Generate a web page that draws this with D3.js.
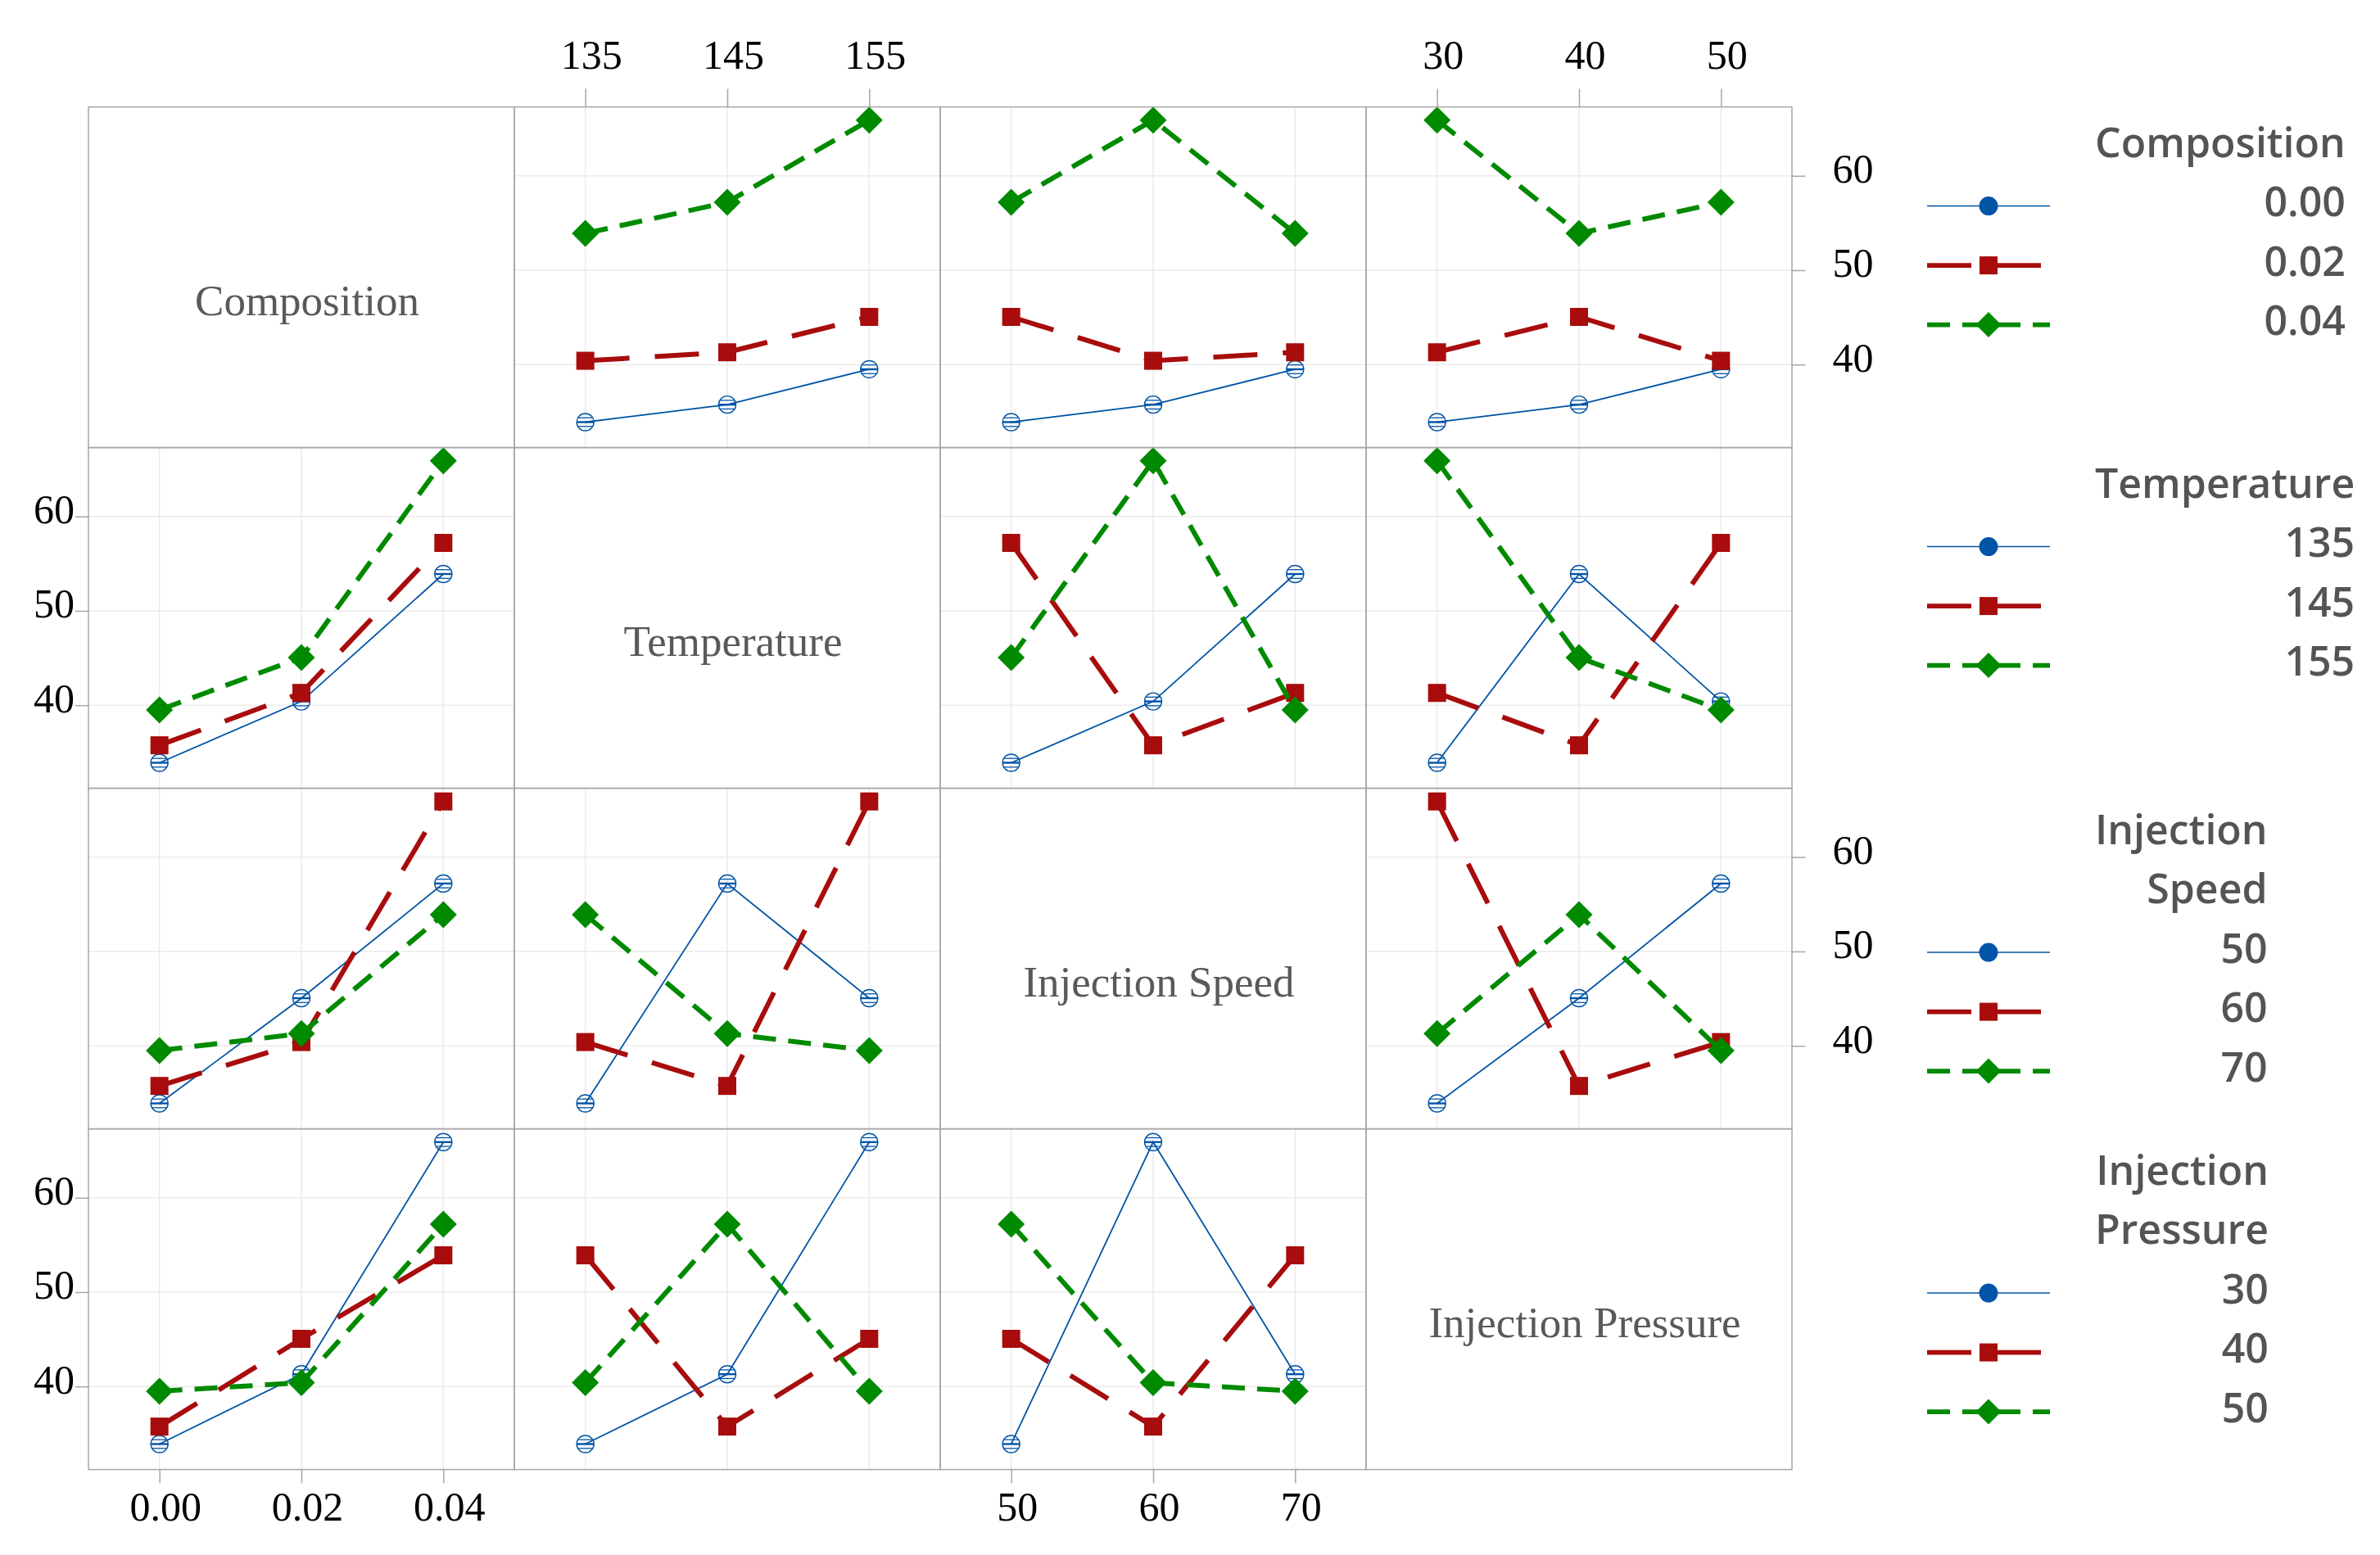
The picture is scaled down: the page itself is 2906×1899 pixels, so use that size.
<!DOCTYPE html>
<meta charset="utf-8">

<!-- Load d3.js -->
<script src="https://d3js.org/d3.v7.min.js"></script>

<body style="margin:0;background:#fff">
<div id="interaction_matrix"></div>
</body>

<style>
.legend text {
  font-family: "Open Sans", sans-serif;
  font-weight: 600;
  fill: #545454;
}
</style>

<script>

// factors (rows = trace factor, columns = x factor)
var factors = ["Composition", "Temperature", "Injection Speed", "Injection Pressure"]
var legendTitles = [["Composition"], ["Temperature"], ["Injection", "Speed"], ["Injection", "Pressure"]]

// tick / legend labels of each factor level
var compositionLevels = ["0.00", "0.02", "0.04"]
var temperatureLevels = ["135", "145", "155"]
var speedLevels = ["50", "60", "70"]
var pressureLevels = ["30", "40", "50"]
var allLevels = [compositionLevels, temperatureLevels, speedLevels, pressureLevels]

// L9 runs: level index of every factor per run, and the response
var runComposition = [0, 0, 0, 1, 1, 1, 2, 2, 2]
var runTemperature = [0, 1, 2, 0, 1, 2, 0, 1, 2]
var runSpeed       = [0, 1, 2, 1, 2, 0, 2, 0, 1]
var runPressure    = [0, 1, 2, 2, 0, 1, 1, 2, 0]
var runResponse    = [33.9, 35.75, 39.5, 40.4, 41.3, 45.05, 53.9, 57.2, 65.9]
var runLevels = [runComposition, runTemperature, runSpeed, runPressure]

var yTicks = [40, 50, 60]

// set the dimensions of the graph
var W = 2906, H = 1899
var gridLeft = 108, gridTop = 130.6
var cellW = 520, cellH = 416

var colors = ["#0054a6", "#a80c0c", "#008a00"]
var dashes = [null, "54,31", "28,15"]
var widths = [1.8, 6, 6]
var serif = "'Liberation Serif', 'Times New Roman', serif"

var svg = d3.select("#interaction_matrix")
  .append("svg")
    .attr("width", W)
    .attr("height", H)

var x = d3.scalePoint().domain([0, 1, 2]).range([0, cellW]).padding(0.5)
var y = d3.scaleLinear().domain([31.2, 67.3]).range([cellH, 0])

// mean response for trace factor tf at level t and x factor xf at level j
function cellMean(tf, t, xf, j) {
  var vals = []
  for (var k = 0; k < runResponse.length; k++) {
    if (runLevels[tf][k] == t && runLevels[xf][k] == j) vals.push(runResponse[k])
  }
  return d3.mean(vals)
}

function drawMarker(g, s, cx, cy, legend) {
  if (s == 0) {
    var r = legend ? 11.5 : 10.5
    if (legend) {
      g.append("circle").attr("cx", cx).attr("cy", cy).attr("r", r).attr("fill", colors[0])
      return
    }
    g.append("circle").attr("cx", cx).attr("cy", cy).attr("r", r)
      .attr("fill", "none").attr("stroke", colors[0]).attr("stroke-width", 1.4)
    ;[-5.3, 0, 5.3].forEach(function(dy) {
      var hw = Math.sqrt(r * r - dy * dy)
      g.append("line")
        .attr("x1", cx - hw).attr("x2", cx + hw)
        .attr("y1", cy + dy).attr("y2", cy + dy)
        .attr("stroke", colors[0]).attr("stroke-width", dy == 0 ? 2.4 : 1.3)
    })
  } else if (s == 1) {
    var a = 22
    g.append("rect").attr("x", cx - a / 2).attr("y", cy - a / 2)
      .attr("width", a).attr("height", a).attr("fill", colors[1])
  } else {
    var d = legend ? 15.5 : 16.5
    g.append("path")
      .attr("d", "M" + cx + "," + (cy - d) + "L" + (cx + d) + "," + cy + "L" + cx + "," + (cy + d) + "L" + (cx - d) + "," + cy + "Z")
      .attr("fill", colors[2])
  }
}

// panels
for (var r = 0; r < 4; r++) {
  for (var c = 0; c < 4; c++) {
    var g = svg.append("g")
      .attr("transform", "translate(" + (gridLeft + c * cellW) + "," + (gridTop + r * cellH) + ")")

    if (r == c) {
      g.append("text")
        .attr("x", cellW / 2 + 7)
        .attr("y", 254)
        .attr("text-anchor", "middle")
        .attr("font-family", serif)
        .attr("font-size", 53)
        .attr("fill", "#595959")
        .text(factors[r])
      continue
    }

    // grid
    g.selectAll(".hgrid").data(yTicks).enter().append("line")
      .attr("x1", 0).attr("x2", cellW)
      .attr("y1", function(d) { return y(d) }).attr("y2", function(d) { return y(d) })
      .attr("stroke", "#ebebeb").attr("stroke-width", 1.6)
    g.selectAll(".vgrid").data(x.domain()).enter().append("line")
      .attr("y1", 0).attr("y2", cellH)
      .attr("x1", function(d) { return x(d) }).attr("x2", function(d) { return x(d) })
      .attr("stroke", "#ebebeb").attr("stroke-width", 1.6)

    // one line per level of the row factor
    for (var t = 0; t < 3; t++) {
      var pts = x.domain().map(function(j) { return [j, cellMean(r, t, c, j)] })
      g.append("path")
        .datum(pts)
        .attr("fill", "none")
        .attr("stroke", colors[t])
        .attr("stroke-width", widths[t])
        .attr("stroke-dasharray", dashes[t])
        .attr("d", d3.line()
          .x(function(d) { return x(d[0]) })
          .y(function(d) { return y(d[1]) })
        )
      pts.forEach(function(p) { drawMarker(g, t, x(p[0]), y(p[1]), false) })
    }
  }
}

// panel borders
for (var r = 0; r < 4; r++) {
  for (var c = 0; c < 4; c++) {
    svg.append("rect")
      .attr("x", gridLeft + c * cellW).attr("y", gridTop + r * cellH)
      .attr("width", cellW).attr("height", cellH)
      .attr("fill", "none").attr("stroke", "#a6a6a6").attr("stroke-width", 1.5)
  }
}

function styleAxis(ax) {
  ax.select(".domain").remove()
  ax.attr("font-family", serif).attr("font-size", 50)
  ax.selectAll(".tick line").attr("stroke", "#a6a6a6").attr("stroke-width", 1.5)
  ax.selectAll(".tick text").attr("fill", "#000")
}

// x axes: top for columns 1,3 ; bottom for columns 0,2
for (var c = 0; c < 4; c++) {
  var lv = allLevels[c]
  var ax
  if (c % 2 == 1) {
    ax = svg.append("g")
      .attr("transform", "translate(" + (gridLeft + c * cellW) + "," + gridTop + ")")
      .call(d3.axisTop(x).tickSize(22).tickPadding(24.6).tickFormat(function(i) { return lv[i] }))
  } else {
    ax = svg.append("g")
      .attr("transform", "translate(" + (gridLeft + c * cellW) + "," + (gridTop + 4 * cellH) + ")")
      .call(d3.axisBottom(x).tickSize(16.7).tickPadding(10).tickFormat(function(i) { return lv[i] }))
  }
  styleAxis(ax)
  ax.selectAll(".tick text").attr("dx", 7)
}

// y axes: right for rows 0,2 ; left for rows 1,3
for (var r = 0; r < 4; r++) {
  var ay
  if (r % 2 == 0) {
    ay = svg.append("g")
      .attr("transform", "translate(" + (gridLeft + 4 * cellW) + "," + (gridTop + r * cellH) + ")")
      .call(d3.axisRight(y).tickValues(yTicks).tickSize(16.5).tickPadding(33))
  } else {
    ay = svg.append("g")
      .attr("transform", "translate(" + gridLeft + "," + (gridTop + r * cellH) + ")")
      .call(d3.axisLeft(y).tickValues(yTicks).tickSize(16).tickPadding(1))
  }
  styleAxis(ay)
  ay.selectAll(".tick text").attr("dy", "0.16em")
}

// legends, one per row
var legendLeft = 2558, lineStep = 72.5
var sampleX0 = 2353, sampleX1 = 2503, sampleMid = 2428
var legend = svg.append("g").attr("class", "legend")

for (var r = 0; r < 4; r++) {
  var lg = legend.append("g")
  var titles = legendTitles[r]
  var base = gridTop + r * cellH + (titles.length > 1 ? 68 : 61)

  // measure the widest title line to right-align the block
  var maxW = 0
  var tt = titles.map(function(s) {
    var el = lg.append("text").attr("font-size", 50).text(s)
    maxW = Math.max(maxW, el.node().getComputedTextLength())
    return el
  })
  var right = legendLeft + maxW
  tt.forEach(function(el, i) {
    el.attr("x", right).attr("y", base + i * lineStep).attr("text-anchor", "end")
  })

  allLevels[r].forEach(function(lab, s) {
    var yb = base + (titles.length + s) * lineStep
    var yl = yb - 12.5
    lg.append("text")
      .attr("x", right).attr("y", yb)
      .attr("text-anchor", "end")
      .attr("font-size", 50)
      .text(lab)
    lg.append("line")
      .attr("x1", sampleX0).attr("x2", sampleX1)
      .attr("y1", yl).attr("y2", yl)
      .attr("stroke", colors[s])
      .attr("stroke-width", s == 0 ? 1.5 : 5.7)
      .attr("stroke-dasharray", dashes[s])
    drawMarker(lg, s, sampleMid, yl, true)
  })
}

</script>
